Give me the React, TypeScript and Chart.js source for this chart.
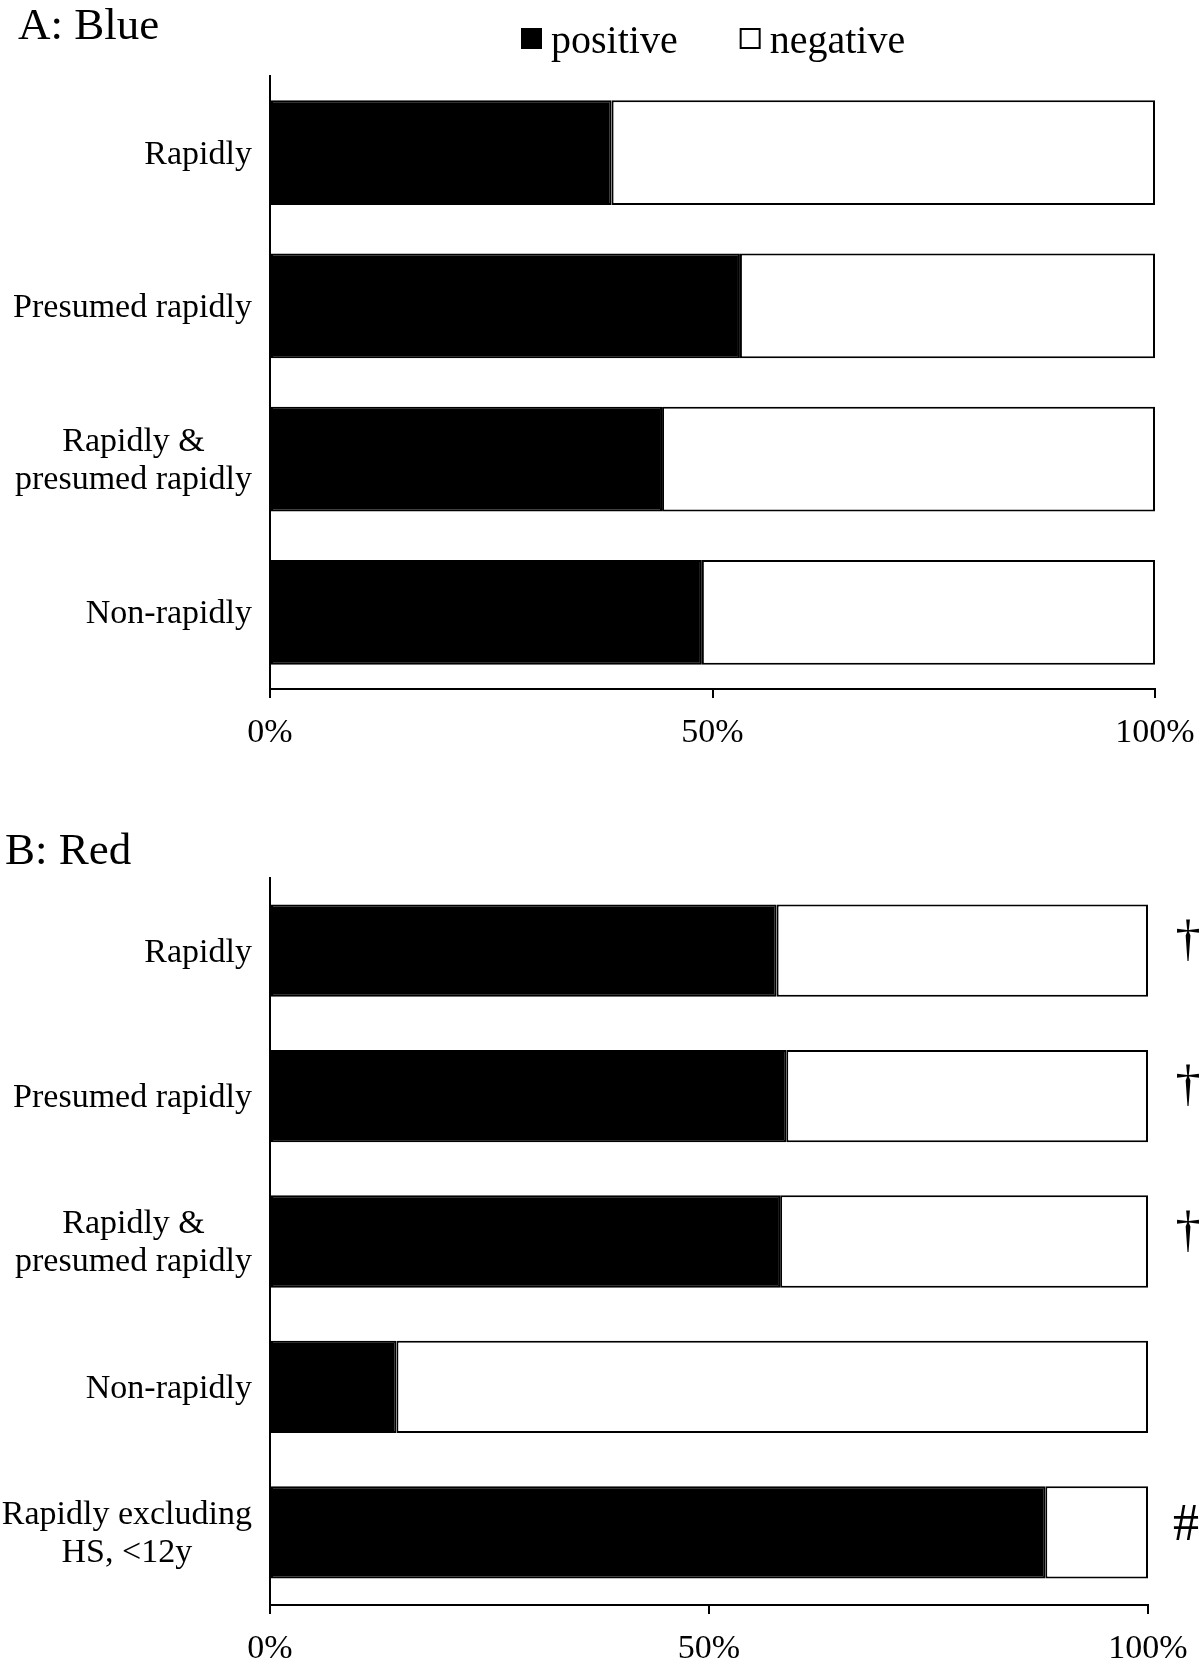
import React, { useEffect, useRef } from 'react';
import { Chart, registerables } from 'chart.js';
Chart.register(...registerables);

const FONT = '"Liberation Serif", "Times New Roman", serif';

const panelATitle = 'A: Blue';
const panelBTitle = 'B: Red';
const seriesNames = ['positive', 'negative'];
const xTickValues = [0, 50, 100];

const categoriesA = [['Rapidly'], ['Presumed rapidly'], ['Rapidly &', 'presumed rapidly'], ['Non-rapidly']];
const positiveA = [38.6, 53.1, 44.3, 48.8];
const negativeA = [61.4, 46.9, 55.7, 51.2];

const categoriesB = [
  ['Rapidly'],
  ['Presumed rapidly'],
  ['Rapidly &', 'presumed rapidly'],
  ['Non-rapidly'],
  ['Rapidly excluding', 'HS, <12y'],
];
const positiveB = [57.7, 58.8, 58.1, 14.4, 88.3];
const negativeB = [42.3, 41.2, 41.9, 85.6, 11.7];
const marksB = ['\u2020', '\u2020', '\u2020', '', '#'];

type PanelSpec = {
  title: string;
  titleX: number;
  titleBaseline: number;
  categories: string[][];
  positive: number[];
  negative: number[];
  marks?: string[];
  showLegend: boolean;
  padTop: number;
  padRight: number;
  xAxisHeight: number;
  barPct: number;
};

function makeChart(canvas: HTMLCanvasElement, spec: PanelSpec) {
  const overlay = {
    id: 'overlay',
    afterDraw(chart: any) {
      const ctx = chart.ctx;
      const ys = chart.scales.y;
      const area = chart.chartArea;
      ctx.save();
      ctx.fillStyle = '#000';
      // title
      ctx.font = `45px ${FONT}`;
      ctx.textAlign = 'left';
      ctx.textBaseline = 'alphabetic';
      ctx.fillText(spec.title, spec.titleX, spec.titleBaseline);
      // category labels
      ctx.font = `34px ${FONT}`;
      ctx.textAlign = 'center';
      ctx.textBaseline = 'middle';
      const rightEdge = area.left - 18;
      spec.categories.forEach((lines, i) => {
        const w = Math.max(...lines.map((l) => ctx.measureText(l).width));
        const cx = rightEdge - w / 2;
        const cy = ys.getPixelForValue(i) + 2;
        lines.forEach((l, j) => {
          ctx.fillText(l, cx, cy + (j - (lines.length - 1) / 2) * 38);
        });
      });
      // marks
      if (spec.marks) {
        ctx.textAlign = 'center';
        ctx.textBaseline = 'alphabetic';
        spec.marks.forEach((m, i) => {
          if (!m) return;
          const cy = ys.getPixelForValue(i);
          if (m === '#') {
            ctx.font = `52px ${FONT}`;
            ctx.fillText(m, area.right + 38, cy + 8);
          } else {
            ctx.font = `50px ${FONT}`;
            ctx.fillText(m, area.right + 40, cy + 4);
          }
        });
      }
      // legend
      if (spec.showLegend) {
        ctx.font = `40px ${FONT}`;
        ctx.textAlign = 'left';
        ctx.textBaseline = 'alphabetic';
        let x = 521;
        chart.data.datasets.forEach((ds: any) => {
          ctx.fillStyle = ds.backgroundColor;
          ctx.fillRect(x, 28, 21, 21);
          ctx.strokeStyle = '#000';
          ctx.lineWidth = 2;
          ctx.strokeRect(x + 1, 29, 19, 19);
          ctx.fillStyle = '#000';
          ctx.fillText(ds.label, x + 30, 53);
          x += 30 + ctx.measureText(ds.label).width + 62;
        });
      }
      ctx.restore();
    },
  };

  return new Chart(canvas, {
    type: 'bar',
    data: {
      labels: spec.categories.map((c) => c.join(' ')),
      datasets: [
        {
          label: seriesNames[0],
          data: spec.positive,
          backgroundColor: '#000000',
          borderColor: '#000000',
          borderWidth: 2,
          borderSkipped: false,
          categoryPercentage: 1,
          barPercentage: spec.barPct,
        },
        {
          label: seriesNames[1],
          data: spec.negative,
          backgroundColor: '#ffffff',
          borderColor: '#000000',
          borderWidth: 2,
          borderSkipped: false,
          categoryPercentage: 1,
          barPercentage: spec.barPct,
        },
      ],
    },
    options: {
      indexAxis: 'y',
      responsive: false,
      animation: false,
      devicePixelRatio: 1,
      layout: { padding: { top: spec.padTop, right: spec.padRight, left: 0, bottom: 0 } },
      plugins: {
        legend: { display: false },
        title: { display: false },
        tooltip: { enabled: false },
      },
      scales: {
        x: {
          stacked: true,
          min: 0,
          max: 100,
          afterBuildTicks: (s: any) => {
            s.ticks = xTickValues.map((v) => ({ value: v }));
          },
          afterFit: (s: any) => {
            s.height = spec.xAxisHeight;
            s.paddingLeft = 0;
            s.paddingRight = 0;
          },
          ticks: {
            callback: (v: any) => `${v}%`,
            font: { family: FONT, size: 34 },
            color: '#000',
            padding: 15,
            maxRotation: 0,
            autoSkip: false,
          },
          grid: {
            display: true,
            drawOnChartArea: false,
            drawTicks: true,
            tickLength: 9,
            color: '#000',
            lineWidth: 2,
          },
          border: { display: true, color: '#000', width: 2 },
        },
        y: {
          stacked: true,
          afterFit: (s: any) => {
            s.width = 270;
          },
          ticks: { display: false },
          grid: { display: false },
          border: { display: true, color: '#000', width: 2 },
        },
      },
    },
    plugins: [overlay],
  } as any);
}

export default function App() {
  const refA = useRef<HTMLCanvasElement>(null);
  const refB = useRef<HTMLCanvasElement>(null);

  useEffect(() => {
    const a = makeChart(refA.current!, {
      title: panelATitle,
      titleX: 18,
      titleBaseline: 39,
      categories: categoriesA,
      positive: positiveA,
      negative: negativeA,
      showLegend: true,
      padTop: 76,
      padRight: 45,
      xAxisHeight: 81,
      barPct: 0.685,
    });
    const b = makeChart(refB.current!, {
      title: panelBTitle,
      titleX: 5,
      titleBaseline: 94,
      categories: categoriesB,
      positive: positiveB,
      negative: negativeB,
      marks: marksB,
      showLegend: false,
      padTop: 108,
      padRight: 52,
      xAxisHeight: 61,
      barPct: 0.635,
    });
    return () => {
      a.destroy();
      b.destroy();
    };
  }, []);

  return (
    <div style={{ position: 'absolute', left: 0, top: 0, width: 1200, height: 1666, background: '#fff' }}>
      <canvas ref={refA} width={1200} height={770} style={{ position: 'absolute', left: 0, top: 0, width: 1200, height: 770 }} />
      <canvas ref={refB} width={1200} height={896} style={{ position: 'absolute', left: 0, top: 770, width: 1200, height: 896 }} />
    </div>
  );
}
